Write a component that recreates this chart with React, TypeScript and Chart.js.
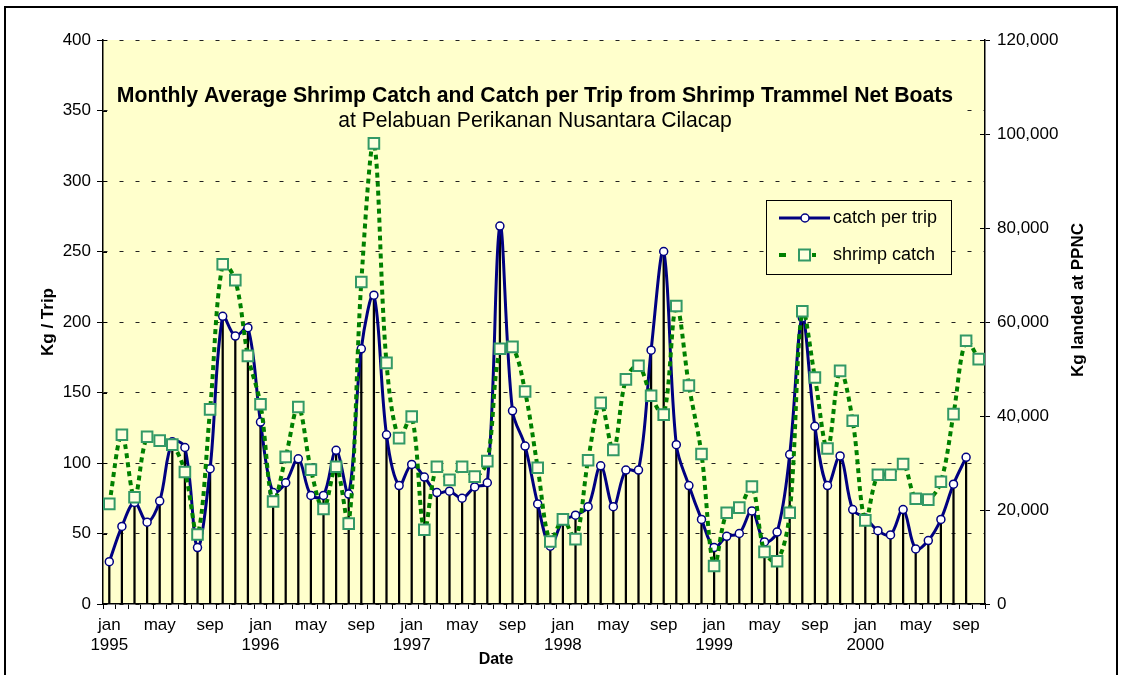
import React, { useEffect, useRef } from 'react';
import { Chart, registerables } from 'chart.js';

Chart.register(...registerables);

// ---------- data ----------
const MONTHS = ['jan', 'feb', 'mar', 'apr', 'may', 'jun', 'jul', 'aug', 'sep', 'oct', 'nov', 'dec'];
const YEARS = [1995, 1996, 1997, 1998, 1999, 2000];
const MONTHS_IN_LAST_YEAR = 10;
const LABELED_MONTHS = ['jan', 'may', 'sep'];

const categories: string[] = [];
YEARS.forEach((y, yi) => {
  const n = yi === YEARS.length - 1 ? MONTHS_IN_LAST_YEAR : 12;
  for (let m = 0; m < n; m++) categories.push(`${MONTHS[m]} ${y}`);
});

// Kg / trip (left axis), jan 1995 .. sep 2000
const catchPerTrip = [
  30, 55, 72, 58, 73, 115, 111, 40, 96, 204, 190, 196,
  129, 79, 86, 103, 77, 77, 109, 78, 181, 219, 120, 84,
  99, 90, 79, 80, 75, 83, 86, 268, 137, 112, 71, 41,
  59, 63, 69, 98, 69, 95, 95, 180, 250, 113, 84, 60,
  40, 48, 50, 66, 44, 51, 106, 203, 126, 84, 105, 67,
  61, 52, 49, 67, 39, 45, 60, 85, 104,
];

// Kg landed at PPNC (right axis), jan 1995 .. oct 2000
const shrimpCatch = [
  21300, 36000, 22700, 35600, 34750, 33900, 28100, 14800, 41400, 72300, 68900, 52800,
  42500, 21800, 31300, 41900, 28600, 20200, 29200, 17100, 68500, 98000, 51300, 35300,
  39900, 15800, 29200, 26400, 29200, 27100, 30400, 54300, 54700, 45200, 29000, 13300,
  18000, 13800, 30600, 42800, 32800, 47800, 50700, 44300, 40300, 63400, 46500, 31900,
  8100, 19400, 20500, 25000, 11100, 9100, 19400, 62300, 48200, 33100, 49600, 39000,
  17800, 27500, 27500, 29800, 22400, 22200, 26000, 40400, 56000, 52100,
];

const LEFT_AXIS = { min: 0, max: 400, step: 50 };
const RIGHT_AXIS = { min: 0, max: 120000, step: 20000 };

const TITLE = 'Monthly Average Shrimp Catch and Catch per Trip from Shrimp Trammel Net Boats';
const SUBTITLE = 'at Pelabuan Perikanan Nusantara Cilacap';
const LEFT_TITLE = 'Kg / Trip';
const RIGHT_TITLE = 'Kg landed at PPNC';
const X_TITLE = 'Date';
const SERIES_NAMES = ['catch per trip', 'shrimp catch'];

// ---------- styles ----------
const FONT = "'Liberation Sans', Arial, sans-serif";
const PLOT_BG = '#FFFFCC';
const NAVY = '#000080';
const GREEN = '#008000';
const SQUARE_BORDER = '#339966';
const SQUARE_FILL = '#FFFFE0';

const W = 1123;
const H = 675;
const AREA = { left: 103, right: 985, top: 40, bottom: 604 };

function fitFont(ctx: CanvasRenderingContext2D, text: string, weight: string, target: number) {
  let size = 18;
  ctx.font = `${weight} ${size}px ${FONT}`;
  const w = ctx.measureText(text).width;
  size = (size * target) / w;
  return `${weight} ${size}px ${FONT}`;
}

const decor = {
  id: 'decor',
  beforeDraw(chart: any) {
    const { ctx, chartArea: a } = chart;
    ctx.save();
    ctx.fillStyle = '#fff';
    ctx.fillRect(0, 0, W, H);
    ctx.fillStyle = PLOT_BG;
    ctx.fillRect(a.left, a.top, a.right - a.left, a.bottom - a.top);
    ctx.strokeStyle = '#000';
    ctx.lineWidth = 2;
    ctx.strokeRect(5, 7, W - 11, H + 20);
    ctx.restore();
  },
  beforeDatasetsDraw(chart: any) {
    const { ctx } = chart;
    ctx.save();
    // title box covering gridline
    ctx.fillStyle = PLOT_BG;
    ctx.fillRect(108, 80, 850, 54);
    ctx.fillStyle = '#000';
    ctx.textAlign = 'center';
    ctx.textBaseline = 'middle';
    ctx.font = fitFont(ctx, TITLE, 'bold', 837);
    ctx.fillText(TITLE, 535, 96);
    ctx.font = fitFont(ctx, SUBTITLE, 'normal', 394);
    ctx.fillText(SUBTITLE, 535, 121);
    ctx.restore();
  },
  afterDraw(chart: any) {
    const { ctx, chartArea: a, scales } = chart;
    ctx.save();
    // inner tick marks
    ctx.strokeStyle = '#000';
    ctx.lineWidth = 1;
    scales.y.ticks.forEach((t: any) => {
      const y = Math.round(scales.y.getPixelForValue(t.value)) + 0.5;
      ctx.beginPath();
      ctx.moveTo(a.left, y);
      ctx.lineTo(a.left + 4, y);
      ctx.stroke();
    });
    scales.y1.ticks.forEach((t: any) => {
      const y = Math.round(scales.y1.getPixelForValue(t.value)) + 0.5;
      ctx.beginPath();
      ctx.moveTo(a.right - 5, y);
      ctx.lineTo(a.right, y);
      ctx.stroke();
    });

    // axis titles
    ctx.fillStyle = '#000';
    ctx.textAlign = 'center';
    ctx.textBaseline = 'middle';
    ctx.font = `bold 17px ${FONT}`;
    ctx.save();
    ctx.translate(48, 322);
    ctx.rotate(-Math.PI / 2);
    ctx.fillText(LEFT_TITLE, 0, 0);
    ctx.restore();
    ctx.save();
    ctx.translate(1078, 300);
    ctx.rotate(-Math.PI / 2);
    ctx.fillText(RIGHT_TITLE, 0, 0);
    ctx.restore();
    ctx.font = `bold 16px ${FONT}`;
    ctx.fillText(X_TITLE, 496, 660);

    // legend
    const lx = 766, ly = 200, lw = 185, lh = 74;
    ctx.fillStyle = PLOT_BG;
    ctx.fillRect(lx, ly, lw, lh);
    ctx.strokeStyle = '#000';
    ctx.lineWidth = 1;
    ctx.strokeRect(lx + 0.5, ly + 0.5, lw, lh);
    // entry 1
    const y1 = 218;
    ctx.strokeStyle = NAVY;
    ctx.lineWidth = 3;
    ctx.beginPath();
    ctx.moveTo(779, y1);
    ctx.lineTo(830, y1);
    ctx.stroke();
    ctx.beginPath();
    ctx.arc(805, y1, 4, 0, Math.PI * 2);
    ctx.fillStyle = '#fff';
    ctx.fill();
    ctx.lineWidth = 1.5;
    ctx.stroke();
    // entry 2
    const y2 = 255;
    ctx.fillStyle = GREEN;
    ctx.fillRect(779, y2 - 2, 7, 4);
    ctx.fillRect(812, y2 - 2, 4, 4);
    ctx.fillStyle = SQUARE_FILL;
    ctx.strokeStyle = SQUARE_BORDER;
    ctx.lineWidth = 2;
    ctx.fillRect(799, y2 - 5.5, 11, 11);
    ctx.strokeRect(799, y2 - 5.5, 11, 11);
    ctx.fillStyle = '#000';
    ctx.textAlign = 'left';
    ctx.font = `18px ${FONT}`;
    ctx.fillText(SERIES_NAMES[0], 833, y1);
    ctx.fillText(SERIES_NAMES[1], 833, y2);
    ctx.restore();
  },
};

export default function App() {
  const ref = useRef<HTMLCanvasElement>(null);

  useEffect(() => {
    if (!ref.current) return;
    Chart.defaults.font.family = FONT;
    Chart.defaults.color = '#000';
    const chart = new Chart(ref.current, {
      type: 'line',
      data: {
        labels: categories,
        datasets: [
          {
            type: 'bar',
            label: 'drop',
            data: catchPerTrip,
            yAxisID: 'y',
            backgroundColor: '#000',
            barThickness: 1.6,
            order: 3,
          } as any,
          {
            type: 'line',
            label: SERIES_NAMES[0],
            data: catchPerTrip,
            yAxisID: 'y',
            borderColor: NAVY,
            borderWidth: 3,
            tension: 0.35,
            pointRadius: 4,
            pointBorderWidth: 1.5,
            pointBackgroundColor: '#fff',
            pointBorderColor: NAVY,
            fill: false,
            order: 2,
          },
          {
            type: 'line',
            label: SERIES_NAMES[1],
            data: shrimpCatch,
            yAxisID: 'y1',
            borderColor: GREEN,
            borderWidth: 4,
            borderDash: [5, 4],
            tension: 0.35,
            pointStyle: 'rect',
            pointRadius: 7.5,
            pointBorderWidth: 2,
            pointBackgroundColor: SQUARE_FILL,
            pointBorderColor: SQUARE_BORDER,
            fill: false,
            order: 1,
          },
        ],
      },
      options: {
        responsive: false,
        animation: false,
        devicePixelRatio: 1,
        events: [],
        layout: { padding: { top: AREA.top, left: 0, right: 0, bottom: 0 } },
        plugins: { legend: { display: false }, tooltip: { enabled: false }, title: { display: false } },
        scales: {
          x: {
            type: 'category',
            offset: true,
            grid: {
              display: true,
              drawOnChartArea: false,
              offset: true,
              drawTicks: true,
              tickLength: 5,
              tickColor: '#000',
              tickWidth: 1,
            },
            border: { display: true, color: '#000', width: 1.5 },
            ticks: {
              autoSkip: false,
              maxRotation: 0,
              minRotation: 0,
              padding: 6,
              color: '#000',
              font: { size: 17, family: FONT, lineHeight: 20 / 17 },
              callback: (_v: any, i: number) => {
                const [m, y] = categories[i].split(' ');
                if (m === 'jan') return [m, y];
                if (LABELED_MONTHS.includes(m)) return m;
                return '';
              },
            },
            afterFit: (s: any) => {
              s.height = H - AREA.bottom;
            },
          },
          y: {
            position: 'left',
            min: LEFT_AXIS.min,
            max: LEFT_AXIS.max,
            ticks: { stepSize: LEFT_AXIS.step, padding: 6, color: '#000', font: { size: 17, family: FONT } },
            grid: {
              color: '#222',
              lineWidth: 1,
              drawTicks: true,
              tickLength: 6,
              tickColor: '#000',
              tickWidth: 1,
            },
            border: { display: true, color: '#000', width: 1.5, dash: [4, 12] },
            afterFit: (s: any) => {
              s.width = AREA.left;
            },
          },
          y1: {
            position: 'right',
            min: RIGHT_AXIS.min,
            max: RIGHT_AXIS.max,
            ticks: {
              stepSize: RIGHT_AXIS.step,
              padding: 7,
              color: '#000',
              font: { size: 17, family: FONT },
              callback: (v: any) => Number(v).toLocaleString('en-US'),
            },
            grid: { drawOnChartArea: false, drawTicks: true, tickLength: 5, tickColor: '#000', tickWidth: 1 },
            border: { display: true, color: '#000', width: 1.5 },
            afterFit: (s: any) => {
              s.width = W - AREA.right;
            },
          },
        },
      } as any,
      plugins: [decor],
    });
    return () => chart.destroy();
  }, []);

  return (
    <div style={{ position: 'fixed', left: 0, top: 0, width: W, height: H, background: '#fff' }}>
      <canvas ref={ref} width={W} height={H} style={{ display: 'block', width: W, height: H }} />
    </div>
  );
}
